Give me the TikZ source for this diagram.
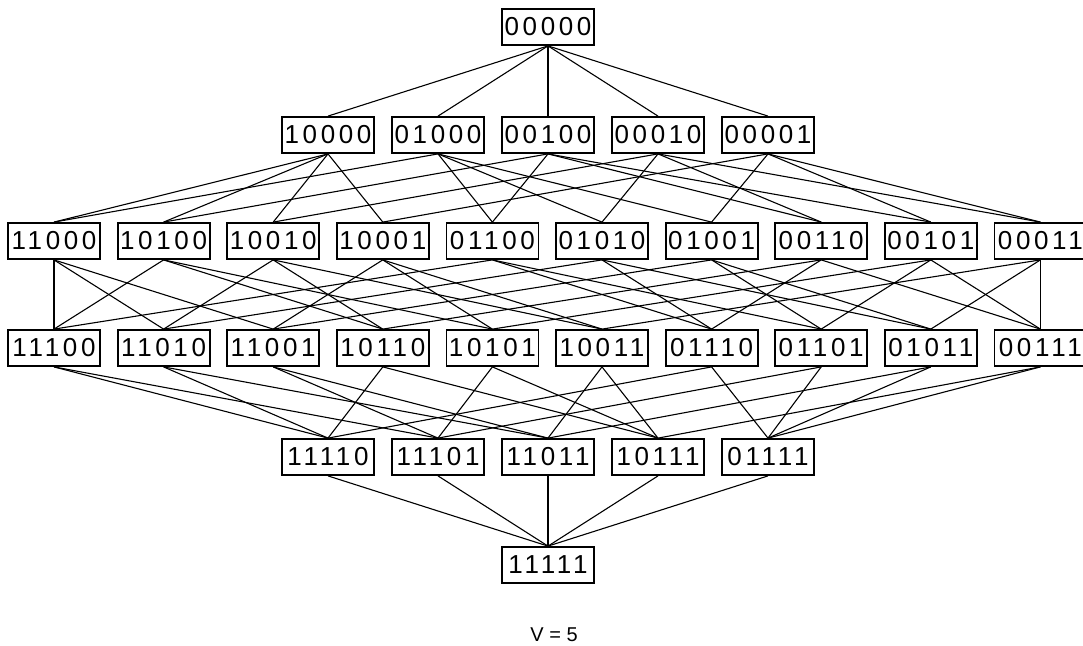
\documentclass[tikz,border=0pt]{standalone}
\usepackage{fontspec}
\setmainfont{Liberation Sans}
\newfontfamily\bitfont[LetterSpace=14]{Liberation Sans}

\tikzset{
  bitbox/.style={draw, line width=1.8pt, fill=white, minimum width=92pt,
    minimum height=36pt, inner sep=0pt,
    font=\bitfont\fontsize{26}{26}\selectfont},
  link/.style={line width=1.1pt}
}

\begin{document}
\begin{tikzpicture}[x=1pt,y=-1pt]
  \useasboundingbox (0,0) rectangle (1083,645);

  % rank 0 and rank 5
  \node[bitbox] (n00000) at (548,27) {00000};
  \node[bitbox] (n11111) at (548,565) {11111};

  % rank 1
  \foreach \w [count=\i from 0] in {10000,01000,00100,00010,00001}
    \node[bitbox] (n\w) at (328+110*\i,135) {\w};

  % rank 2
  \foreach \w [count=\i from 0] in {11000,10100,10010,10001,01100,01010,01001,00110,00101,00011}
    \node[bitbox] (n\w) at (54+109.6*\i,241) {\w};

  % rank 3
  \foreach \w [count=\i from 0] in {11100,11010,11001,10110,10101,10011,01110,01101,01011,00111}
    \node[bitbox] (n\w) at (54+109.6*\i,348) {\w};

  % rank 4
  \foreach \w [count=\i from 0] in {11110,11101,11011,10111,01111}
    \node[bitbox] (n\w) at (328+110*\i,457) {\w};

  % covering relations of the Boolean lattice
  \foreach \a/\bs in {
      00000/{10000,01000,00100,00010,00001},
      10000/{11000,10100,10010,10001},
      01000/{11000,01100,01010,01001},
      00100/{10100,01100,00110,00101},
      00010/{10010,01010,00110,00011},
      00001/{10001,01001,00101,00011},
      11000/{11100,11010,11001},
      10100/{11100,10110,10101},
      10010/{11010,10110,10011},
      10001/{11001,10101,10011},
      01100/{11100,01110,01101},
      01010/{11010,01110,01011},
      01001/{11001,01101,01011},
      00110/{10110,01110,00111},
      00101/{10101,01101,00111},
      00011/{10011,01011,00111},
      11100/{11110,11101},
      11010/{11110,11011},
      11001/{11101,11011},
      10110/{11110,10111},
      10101/{11101,10111},
      10011/{11011,10111},
      01110/{11110,01111},
      01101/{11101,01111},
      01011/{11011,01111},
      00111/{10111,01111},
      11110/{11111},
      11101/{11111},
      11011/{11111},
      10111/{11111},
      01111/{11111}}
    \foreach \b in \bs
      \draw[link] (n\a.south) -- (n\b.north);

  \node (caption) at (554,635) {\fontsize{20}{20}\selectfont V = 5};
\end{tikzpicture}
\end{document}
